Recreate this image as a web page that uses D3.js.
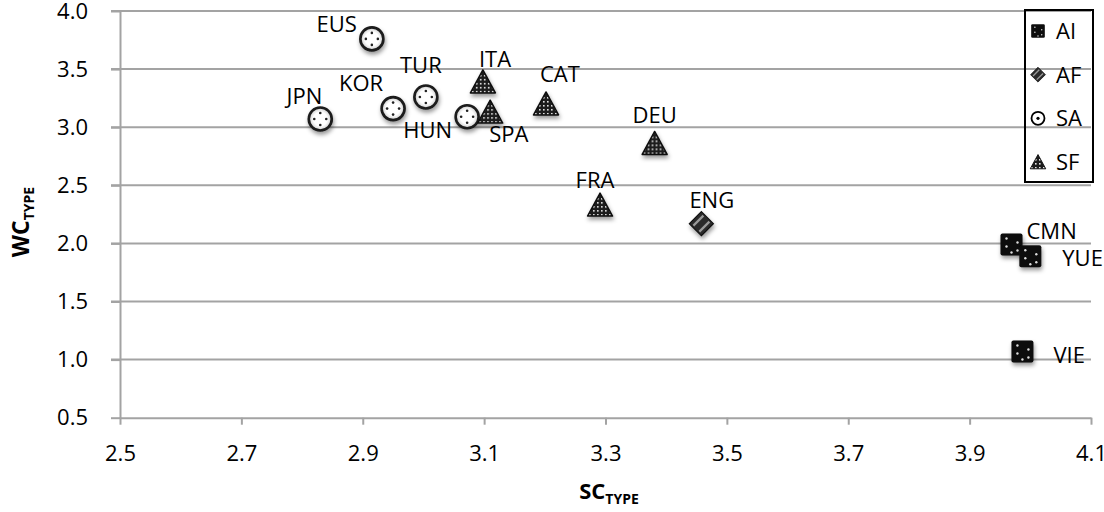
<!DOCTYPE html>
<html>
<head>
<meta charset="utf-8">
<script src="https://cdn.jsdelivr.net/npm/d3@7"></script>
<style>
  body { margin: 0; background: #fff; }
  svg text { font-family: 'Open Sans', sans-serif; fill: #000; }
</style>
</head>
<body>
<div class="chart"></div>
<script>
// language points: SC_TYPE (x) vs WC_TYPE (y)
const names  = ['EUS', 'JPN', 'KOR', 'TUR', 'HUN', 'ITA', 'SPA', 'CAT', 'DEU', 'FRA', 'ENG', 'CMN', 'YUE', 'VIE'];
const scType = [2.915, 2.830, 2.950, 3.004, 3.072, 3.098, 3.110, 3.202, 3.381, 3.291, 3.458, 3.969, 4.000, 3.987];
const wcType = [3.76, 3.07, 3.16, 3.26, 3.09, 3.39, 3.13, 3.20, 2.86, 2.33, 2.17, 1.99, 1.89, 1.07];
const groups = ['SA', 'SA', 'SA', 'SA', 'SA', 'SF', 'SF', 'SF', 'SF', 'SF', 'AF', 'AI', 'AI', 'AI'];
const legendKeys = ['AI', 'AF', 'SA', 'SF'];
const xTicks = [2.5, 2.7, 2.9, 3.1, 3.3, 3.5, 3.7, 3.9, 4.1];
const yTicks = [0.5, 1.0, 1.5, 2.0, 2.5, 3.0, 3.5, 4.0];

// label placement relative to the marker
const labelPos = {
  EUS: [-15, -7, 'end'], JPN: [2, -15, 'end'], KOR: [-10, -18, 'end'], TUR: [-5, -24, 'middle'],
  HUN: [-15, 21, 'end'], ITA: [-4, -15, 'start'], SPA: [-1, 30, 'start'], CAT: [-6, -22, 'start'],
  DEU: [0, -20, 'middle'], FRA: [-5, -17, 'middle'], ENG: [-12, -16, 'start'],
  CMN: [15, -6, 'start'], YUE: [32, 10, 'start'], VIE: [31, 12, 'start']
};

const width = 1104, height = 512;
const margin = {top: 11, right: 13, bottom: 95, left: 120};
const gray = '#a3a3a3';
const fs = 22;

const svg = d3.select('.chart').append('svg')
  .attr('width', width).attr('height', height);

const defs = svg.append('defs');
const shadow = defs.append('filter').attr('id', 'shadow')
  .attr('x', '-50%').attr('y', '-50%').attr('width', '200%').attr('height', '200%');
shadow.append('feDropShadow').attr('dx', 1).attr('dy', 3).attr('stdDeviation', 2)
  .attr('flood-color', '#000').attr('flood-opacity', 0.4);

const checker = defs.append('pattern').attr('id', 'checker')
  .attr('width', 4).attr('height', 4).attr('patternUnits', 'userSpaceOnUse');
checker.append('rect').attr('width', 4).attr('height', 4).attr('fill', '#1c1c1c');
checker.append('rect').attr('x', 1).attr('y', 1).attr('width', 1.6).attr('height', 1.6).attr('fill', '#e8e8e8');

const ring = defs.append('radialGradient').attr('id', 'ring');
ring.append('stop').attr('offset', '60%').attr('stop-color', '#fff');
ring.append('stop').attr('offset', '85%').attr('stop-color', '#ddd');
ring.append('stop').attr('offset', '100%').attr('stop-color', '#888');

const x = d3.scaleLinear().domain([2.5, 4.1]).range([margin.left, width - margin.right]);
const y = d3.scaleLinear().domain([0.5, 4.0]).range([height - margin.bottom + 0.7, margin.top]);

// gridlines
svg.append('g').selectAll('line').data(yTicks.slice(1)).join('line')
  .attr('x1', margin.left - 9).attr('x2', x(4.1))
  .attr('y1', d => y(d)).attr('y2', d => y(d))
  .attr('stroke', gray).attr('stroke-width', 2);

// axes
const xAxis = svg.append('g').attr('transform', `translate(0,${y(0.5)})`)
  .call(d3.axisBottom(x).tickValues(xTicks).tickFormat(d3.format('.1f')).tickSize(7).tickPadding(21).tickSizeOuter(0));
const yAxis = svg.append('g').attr('transform', `translate(${margin.left},0)`)
  .call(d3.axisLeft(y).tickValues(yTicks).tickFormat(d3.format('.1f')).tickSize(9).tickPadding(23).tickSizeOuter(0));
[xAxis, yAxis].forEach(a => {
  a.select('.domain').attr('stroke', gray).attr('stroke-width', 2);
  a.selectAll('.tick line').attr('stroke', gray).attr('stroke-width', 2);
  a.selectAll('.tick text').attr('font-size', fs).attr('font-family', "'Open Sans', sans-serif");
});

// marker drawers
function drawMarker(g, type, s) {
  if (type === 'SA') {
    g.append('circle').attr('r', 11.5 * s).attr('fill', 'url(#ring)')
      .attr('stroke', '#1a1a1a').attr('stroke-width', 2.6 * s);
    [[0, -6], [6, 0], [0, 6], [-6, 0]].forEach(p =>
      g.append('circle').attr('cx', p[0] * s).attr('cy', p[1] * s).attr('r', 1.3 * s).attr('fill', '#222'));
  } else if (type === 'SF') {
    g.append('path').attr('d', `M0,${-12 * s}L${12.5 * s},${11 * s}L${-12.5 * s},${11 * s}Z`)
      .attr('fill', 'url(#checker)').attr('stroke', '#111').attr('stroke-width', 1.5 * s).attr('stroke-linejoin', 'round');
  } else if (type === 'AI') {
    const h = 11 * s;
    g.append('rect').attr('x', -h).attr('y', -h).attr('width', 2 * h).attr('height', 2 * h)
      .attr('rx', 2 * s).attr('fill', '#0d0d0d');
    [[-5, -6], [-5, 2], [6, -2], [6, 6], [0, 8]].forEach(p =>
      g.append('circle').attr('cx', p[0] * s).attr('cy', p[1] * s).attr('r', 1.2 * s).attr('fill', '#ddd'));
  } else if (type === 'AF') {
    const h = 12 * s;
    g.append('path').attr('d', `M0,${-h}L${h},0L0,${h}L${-h},0Z`)
      .attr('fill', '#2a2a2a').attr('stroke', '#111').attr('stroke-width', 1.2 * s);
    [-3, 3].forEach(o =>
      g.append('line').attr('x1', (-5 + o) * s).attr('y1', (5 + o) * s).attr('x2', (5 + o) * s).attr('y2', (-5 + o) * s)
        .attr('stroke', '#9a9a9a').attr('stroke-width', 2.2 * s));
  }
}

const points = names.map((n, i) => ({name: n, sc: scType[i], wc: wcType[i], group: groups[i]}));

svg.append('g').selectAll('g').data(points).join('g')
  .attr('transform', d => `translate(${x(d.sc)},${y(d.wc)})`)
  .attr('filter', 'url(#shadow)')
  .each(function(d) { drawMarker(d3.select(this), d.group, 1); });

svg.append('g').selectAll('text').data(points).join('text')
  .attr('x', d => x(d.sc) + labelPos[d.name][0])
  .attr('y', d => y(d.wc) + labelPos[d.name][1])
  .attr('text-anchor', d => labelPos[d.name][2])
  .attr('font-size', fs)
  .text(d => d.name);

// legend
const legend = svg.append('g');
legend.append('rect').attr('x', 1025).attr('y', 10).attr('width', 68).attr('height', 172)
  .attr('fill', 'none').attr('stroke', '#000').attr('stroke-width', 2);
const rowY = d3.scalePoint().domain(legendKeys).range([31, 162]);
const rows = legend.selectAll('g.row').data(legendKeys).join('g')
  .attr('class', 'row').attr('transform', d => `translate(1038,${rowY(d)})`);
rows.each(function(d) {
  const g = d3.select(this);
  if (d === 'SA') {
    g.append('circle').attr('r', 6.5).attr('fill', '#fff').attr('stroke', '#000').attr('stroke-width', 1.8);
    g.append('circle').attr('r', 1.6).attr('fill', '#000');
  } else {
    drawMarker(g, d, 0.62);
  }
});
rows.append('text').attr('x', 18).attr('y', 8).attr('font-size', fs).text(d => d);

// axis titles
const xt = svg.append('text').attr('x', 609).attr('y', 499).attr('text-anchor', 'middle')
  .attr('font-weight', 'bold').attr('font-size', 22);
xt.append('tspan').text('SC');
xt.append('tspan').attr('font-size', 14).attr('dy', 5).text('TYPE');

const yt = svg.append('text').attr('transform', 'translate(29,222) rotate(-90)').attr('text-anchor', 'middle')
  .attr('font-weight', 'bold').attr('font-size', 23);
yt.append('tspan').text('WC');
yt.append('tspan').attr('font-size', 14).attr('dy', 5).text('TYPE');
</script>
</body>
</html>
